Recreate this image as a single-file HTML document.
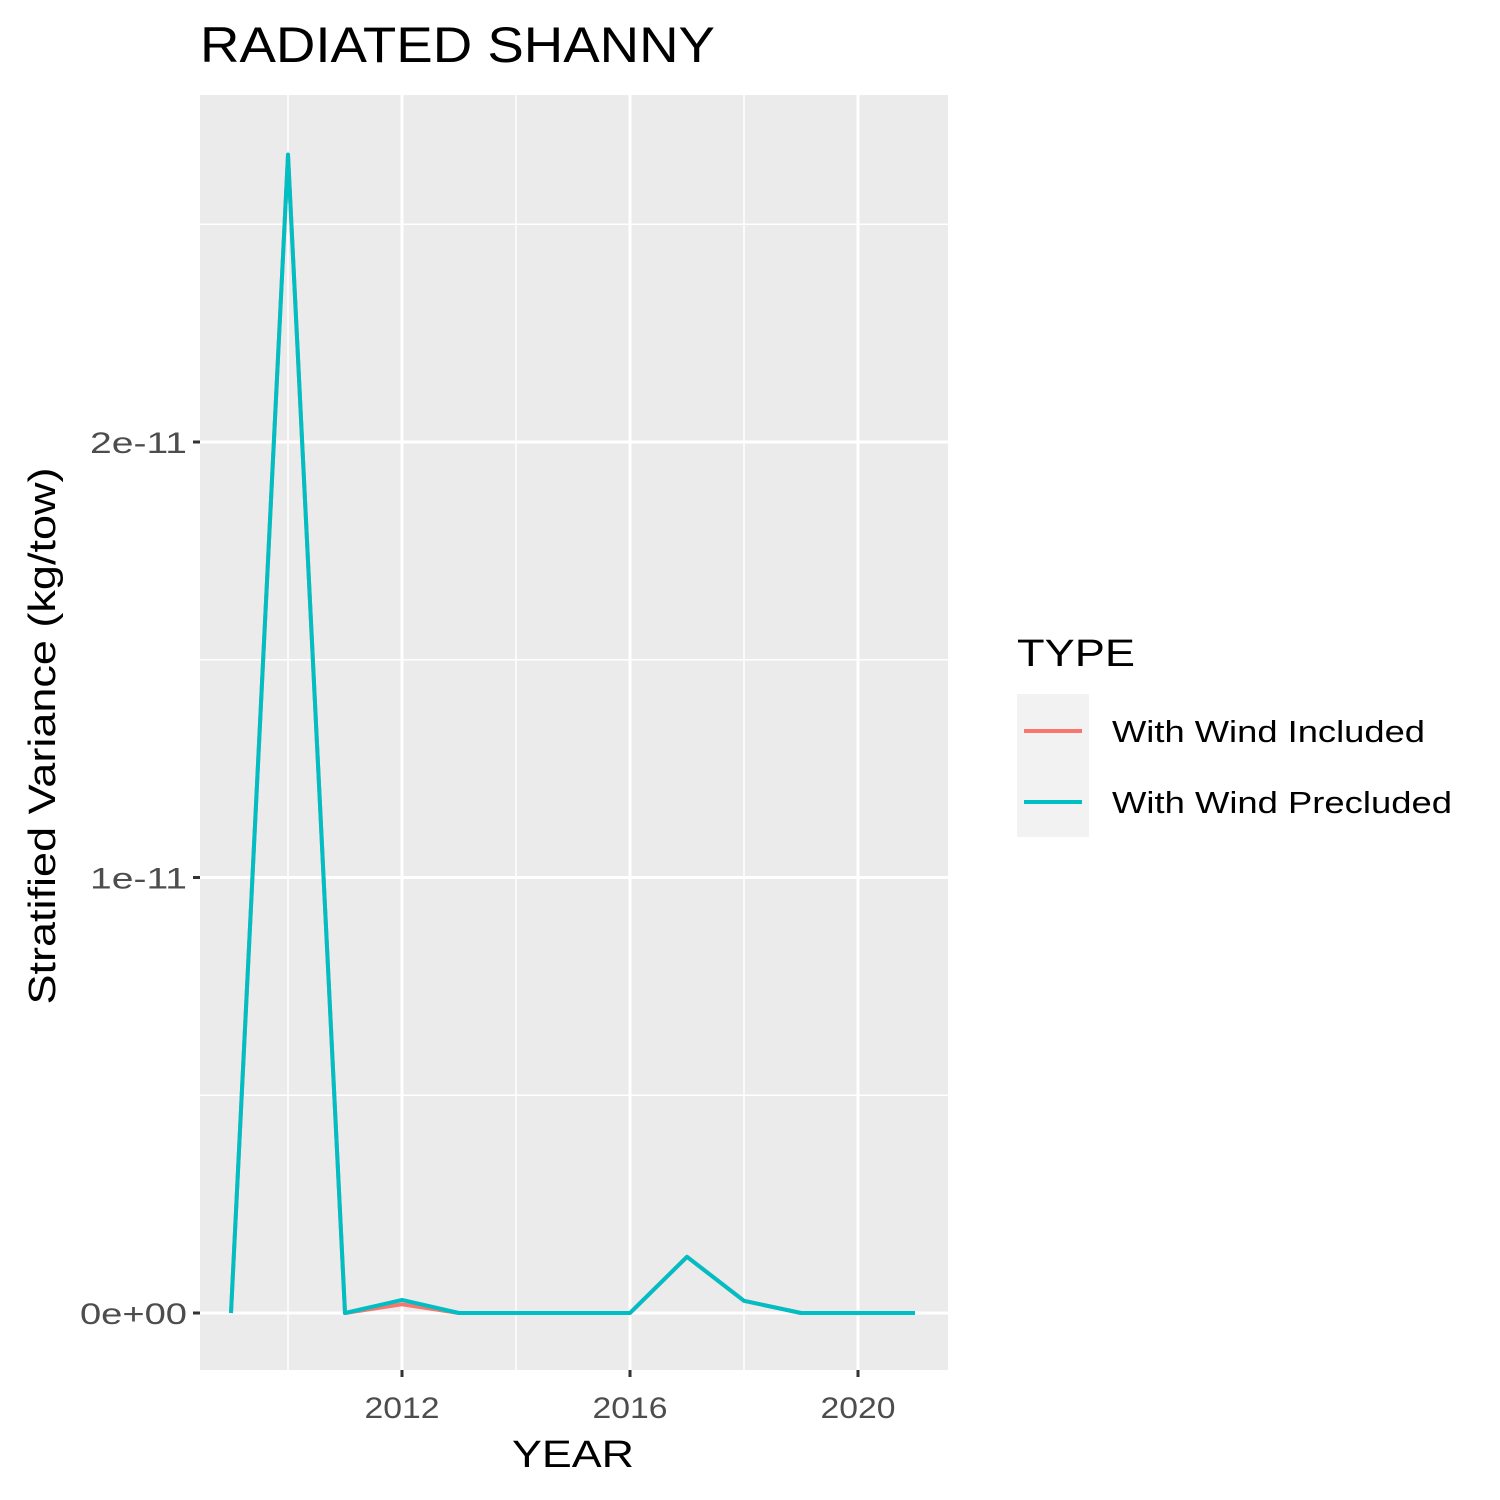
<!DOCTYPE html>
<html><head><meta charset="utf-8"><style>
body{margin:0;background:#fff;}
svg{display:block;font-family:"Liberation Sans",Arial,sans-serif;}
</style></head><body>
<svg id="chart" width="1500" height="1500"></svg>
<script>
const years=[2009,2010,2011,2012,2013,2014,2015,2016,2017,2018,2019,2020,2021];
const windIncluded=[0,2.66e-11,0,0.02e-11,0,0,0,0,0.129e-11,0.028e-11,0,0,0];
const windPrecluded=[0,2.66e-11,0,0.03e-11,0,0,0,0,0.129e-11,0.028e-11,0,0,0];
const xTicks=[2012,2016,2020];
const xMinor=[2010,2014,2018];
const yTicks=[0,1e-11,2e-11];
const yTickLabels=["0e+00","1e-11","2e-11"];
const yMinor=[0.5e-11,1.5e-11,2.5e-11];

const ns="http://www.w3.org/2000/svg";
const svg=document.getElementById('chart');
const P={l:200,r:948,t:95,b:1370};
const xs=y=>402+(y-2012)*57;
const ys=v=>1313-v/1e-11*435.5;
function el(tag,attrs,parent){const e=document.createElementNS(ns,tag);for(const k in attrs)e.setAttribute(k,attrs[k]);(parent||svg).appendChild(e);return e;}

const panel=el('rect',{x:P.l,y:P.t,width:P.r-P.l,height:P.b-P.t,fill:'#EBEBEB'});


xMinor.forEach(v=>{const g=el('line',{x1:xs(v),x2:xs(v),y1:P.t,y2:P.b,stroke:'#fff','stroke-width':1.5});

});
yMinor.forEach(v=>{const g=el('line',{x1:P.l,x2:P.r,y1:ys(v),y2:ys(v),stroke:'#fff','stroke-width':1.5});

});
xTicks.forEach(v=>{const g=el('line',{x1:xs(v),x2:xs(v),y1:P.t,y2:P.b,stroke:'#fff','stroke-width':3});


const t=el('line',{x1:xs(v),x2:xs(v),y1:P.b,y2:P.b+7,stroke:'#333','stroke-width':3});


const l=el('text',{x:xs(v),y:P.b+48,'text-anchor':'middle','font-size':30,fill:'#4D4D4D',textLength:75,lengthAdjust:'spacingAndGlyphs'});l.textContent=v;

});
yTicks.forEach((v,i)=>{const g=el('line',{x1:P.l,x2:P.r,y1:ys(v),y2:ys(v),stroke:'#fff','stroke-width':3});


const t=el('line',{x1:P.l-7,x2:P.l,y1:ys(v),y2:ys(v),stroke:'#333','stroke-width':3});


const l=el('text',{x:P.l-13,y:ys(v)+11,'text-anchor':'end','font-size':30,fill:'#4D4D4D',textLength:(i==0?107:97),lengthAdjust:'spacingAndGlyphs'});l.textContent=yTickLabels[i];

});
function line(vals,color,name){const d=vals.map((v,i)=>(i?'L':'M')+xs(years[i])+','+ys(v)).join(' ');
const p=el('path',{d:d,fill:'none',stroke:color,'stroke-width':4,'stroke-linejoin':'round'});

}
line(windIncluded,'#F8766D','line-wind-included');
line(windPrecluded,'#00BFC4','line-wind-precluded');

const title=el('text',{x:200,y:62,'font-size':50,fill:'#000',textLength:515,lengthAdjust:'spacingAndGlyphs'});title.textContent='RADIATED SHANNY';


const xt=el('text',{x:573,y:1467,'text-anchor':'middle','font-size':38,fill:'#000',textLength:122,lengthAdjust:'spacingAndGlyphs'});xt.textContent='YEAR';


const yt=el('text',{x:0,y:0,'text-anchor':'middle','font-size':38,fill:'#000',textLength:537,lengthAdjust:'spacingAndGlyphs',transform:'translate(55,736) rotate(-90)'});yt.textContent='Stratified Variance (kg/tow)';



const lt=el('text',{x:1017,y:666,'font-size':38,fill:'#000',textLength:118,lengthAdjust:'spacingAndGlyphs'});lt.textContent='TYPE';


const lb=el('rect',{x:1017,y:694,width:72,height:143,fill:'#F2F2F2'});


[['With Wind Included','#F8766D',731,313],['With Wind Precluded','#00BFC4',802,340]].forEach(([lab,c,y,w])=>{
const k=el('line',{x1:1024,x2:1082,y1:y,y2:y,stroke:c,'stroke-width':4});


const t=el('text',{x:1112,y:y+11,'font-size':31,fill:'#000',textLength:w,lengthAdjust:'spacingAndGlyphs'});t.textContent=lab;

});
</script>
</body></html>
